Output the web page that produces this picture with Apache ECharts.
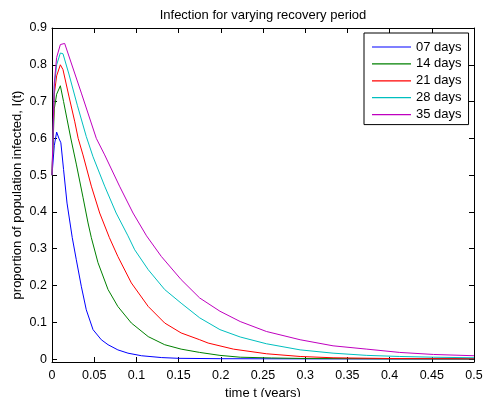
<!DOCTYPE html>
<html>
<head>
<meta charset="utf-8">
<script src="https://cdn.jsdelivr.net/npm/echarts@6/dist/echarts.min.js"></script>
<style>
html,body{margin:0;padding:0;background:#fff;}
#chart{width:483px;height:397px;}
</style>
</head>
<body>
<div id="chart"></div>
<script>
// Data
const seriesNames = ['07 days', '14 days', '21 days', '28 days', '35 days'];
const xTicks = [0, 0.05, 0.1, 0.15, 0.2, 0.25, 0.3, 0.35, 0.4, 0.45, 0.5];
const yTicks = [0, 0.1, 0.2, 0.3, 0.4, 0.5, 0.6, 0.7, 0.8, 0.9];

const t07 = [0, 0.0027, 0.0055, 0.0082, 0.0105, 0.0137, 0.0178, 0.024, 0.0288, 0.0347, 0.0406, 0.0486, 0.0584, 0.0664, 0.078, 0.090, 0.106, 0.13, 0.15, 0.2, 0.3, 0.5];
const i07 = [0.5, 0.58, 0.617, 0.60, 0.588, 0.515, 0.424, 0.33, 0.27, 0.198, 0.134, 0.080, 0.0525, 0.039, 0.025, 0.016, 0.009, 0.004, 0.002, 0.001, 0.0005, 0.0002];

const t14 = [0, 0.0027, 0.0055, 0.0099, 0.0137, 0.0222, 0.0288, 0.0367, 0.0427, 0.0466, 0.0545, 0.0664, 0.078, 0.094, 0.114, 0.1335, 0.153, 0.175, 0.199, 0.223, 0.26, 0.3, 0.4, 0.5];
const i14 = [0.5, 0.68, 0.72, 0.743, 0.70, 0.601, 0.53, 0.44, 0.37, 0.33, 0.262, 0.189, 0.143, 0.098, 0.061, 0.039, 0.027, 0.018, 0.010, 0.005, 0.003, 0.0015, 0.0005, 0.0002];

const t21 = [0, 0.0027, 0.0055, 0.0099, 0.013, 0.02, 0.027, 0.031, 0.0367, 0.0466, 0.0565, 0.068, 0.078, 0.094, 0.114, 0.1335, 0.153, 0.175, 0.185, 0.215, 0.254, 0.294, 0.333, 0.4, 0.5];
const i21 = [0.5, 0.72, 0.77, 0.80, 0.787, 0.715, 0.645, 0.60, 0.555, 0.47, 0.397, 0.33, 0.279, 0.207, 0.143, 0.098, 0.071, 0.0525, 0.0435, 0.027, 0.0144, 0.007, 0.0035, 0.0015, 0.0008];

const t28 = [0, 0.0027, 0.0055, 0.0099, 0.013, 0.02, 0.03, 0.0406, 0.0486, 0.0624, 0.076, 0.09, 0.098, 0.114, 0.1335, 0.153, 0.175, 0.199, 0.223, 0.254, 0.294, 0.333, 0.373, 0.412, 0.452, 0.5];
const i28 = [0.5, 0.74, 0.80, 0.832, 0.830, 0.775, 0.69, 0.605, 0.55, 0.47, 0.397, 0.335, 0.297, 0.243, 0.189, 0.152, 0.112, 0.080, 0.060, 0.0416, 0.025, 0.016, 0.010, 0.007, 0.005, 0.0035];

const t35 = [0, 0.0027, 0.0055, 0.0099, 0.015, 0.0348, 0.0525, 0.0624, 0.080, 0.096, 0.112, 0.1295, 0.153, 0.175, 0.199, 0.223, 0.254, 0.294, 0.333, 0.373, 0.412, 0.452, 0.5];
const i35 = [0.5, 0.75, 0.82, 0.855, 0.858, 0.723, 0.60, 0.555, 0.47, 0.397, 0.335, 0.279, 0.216, 0.166, 0.130, 0.102, 0.075, 0.0525, 0.036, 0.027, 0.018, 0.0125, 0.009];

const times = [t07, t14, t21, t28, t35];
const values = [i07, i14, i21, i28, i35];
const colors = ['#0000ff', '#008000', '#ff0000', '#00bfbf', '#bf00bf'];

const FONT = 'Liberation Sans, Arial, Helvetica, sans-serif';

function pairs(t, v) { return t.map((x, k) => [x, v[k]]); }

const chart = echarts.init(document.getElementById('chart'), null, {renderer: 'canvas'});

const axisLineStyle = {show: true, onZero: false, lineStyle: {color: '#000', width: 1}};
const tickStyle = {show: true, inside: true, length: 5, lineStyle: {color: '#000', width: 1}};

const option = {
  animation: false,
  backgroundColor: '#fff',
  textStyle: {fontFamily: FONT},
  title: {
    text: 'Infection for varying recovery period',
    left: 263, top: 9, textAlign: 'center', padding: 0,
    textStyle: {fontSize: 13, fontWeight: 'normal', color: '#000', fontFamily: FONT}
  },
  grid: {left: 52, right: 9, top: 28, bottom: 35, containLabel: false, outerBoundsMode: 'none'},
  legend: {
    data: seriesNames,
    orient: 'vertical',
    left: 364, top: 33,
    padding: [7, 7, 3, 8],
    icon: 'rect',
    itemWidth: 39, itemHeight: 1.2, itemGap: 2.9,
    borderColor: '#000', borderWidth: 1, backgroundColor: '#fff', borderRadius: 0,
    textStyle: {fontSize: 13, color: '#000', fontFamily: FONT, lineHeight: 14}
  },
  xAxis: [{
    type: 'value', min: 0, max: 0.5, interval: 0.05,
    position: 'bottom',
    name: 'time t (years)', nameLocation: 'middle', nameGap: 23,
    nameTextStyle: {fontSize: 13, color: '#000', fontFamily: FONT},
    axisLine: axisLineStyle, axisTick: tickStyle, splitLine: {show: false},
    axisLabel: {fontSize: 12.5, color: '#000', margin: 7, fontFamily: FONT,
      customValues: xTicks}
  }, {
    type: 'value', min: 0, max: 0.5, interval: 0.05,
    position: 'top',
    axisLine: axisLineStyle, axisTick: tickStyle, splitLine: {show: false},
    axisLabel: {show: false}
  }],
  yAxis: [{
    type: 'value', min: -0.008, max: 0.9,
    position: 'left',
    name: 'proportion of population infected, I(t)', nameLocation: 'middle', nameGap: 28,
    nameMoveOverlap: false,
    nameTextStyle: {fontSize: 13, color: '#000', fontFamily: FONT},
    axisLine: axisLineStyle, splitLine: {show: false},
    axisTick: Object.assign({}, tickStyle, {customValues: yTicks}),
    axisLabel: {fontSize: 12.5, color: '#000', margin: 5, fontFamily: FONT,
      customValues: yTicks}
  }, {
    type: 'value', min: -0.008, max: 0.9,
    position: 'right',
    axisLine: axisLineStyle, splitLine: {show: false},
    axisTick: Object.assign({}, tickStyle, {customValues: yTicks}),
    axisLabel: {show: false, customValues: yTicks}
  }],
  series: seriesNames.map((name, k) => ({
    name: name,
    type: 'line',
    xAxisIndex: 0, yAxisIndex: 0,
    data: pairs(times[k], values[k]),
    symbol: 'none',
    smooth: false,
    color: colors[k],
    lineStyle: {color: colors[k], width: 1}
  }))
};

chart.setOption(option);
</script>
</body>
</html>
